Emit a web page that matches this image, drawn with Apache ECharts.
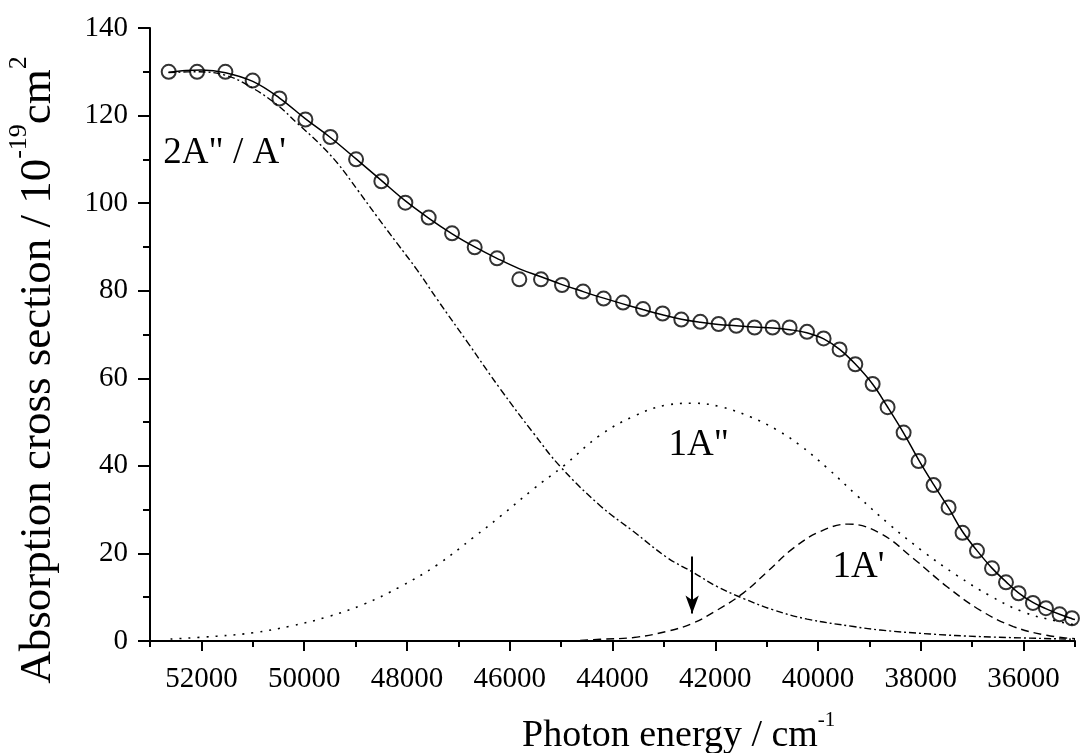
<!DOCTYPE html>
<html>
<head>
<meta charset="utf-8">
<title>Absorption cross section</title>
<script src="https://cdn.jsdelivr.net/npm/echarts@6.0.0/dist/echarts.min.js"></script>
<style>
  html, body { margin: 0; padding: 0; background: #fff; }
  #chart { width: 1081px; height: 753px; }
</style>
</head>
<body>
<div id="chart"></div>
<script>
// measured cross section (circles)
const pointX = [52636, 52084, 51533, 51002, 50482, 49976, 49490, 48990, 48498, 48031, 47577, 47122, 46682, 46247, 45813, 45391, 44982, 44573, 44173, 43795, 43406, 43025, 42661, 42291, 41935, 41591, 41235, 40884, 40554, 40215, 39892, 39581, 39275, 38938, 38647, 38335, 38044, 37752, 37460, 37188, 36907, 36615, 36343, 36098, 35818, 35565, 35300, 35059]
const pointY = [130.0, 130.0, 130.0, 128.0, 123.9, 119.1, 115.1, 110.0, 105.0, 100.1, 96.7, 93.1, 89.9, 87.4, 82.6, 82.6, 81.3, 79.8, 78.2, 77.3, 75.8, 74.8, 73.4, 72.9, 72.4, 72.0, 71.6, 71.6, 71.6, 70.6, 69.1, 66.6, 63.2, 58.7, 53.4, 47.6, 41.1, 35.6, 30.5, 24.7, 20.6, 16.6, 13.4, 10.9, 8.7, 7.5, 6.1, 5.2]

// total fit (solid)
const fitX = [52640, 52300, 52000, 51530, 51000, 50480, 49980, 49490, 48990, 48500, 48030, 47580, 47120, 46680, 46250, 45810, 45390, 44980, 44570, 44170, 43800, 43410, 43030, 42660, 42290, 41940, 41590, 41240, 40880, 40550, 40220, 39890, 39580, 39280, 38940, 38650, 38340, 38040, 37750, 37460, 37190, 36910, 36620, 36340, 36100, 35820, 35570, 35300, 35060, 35000]
const fitY = [129.9, 130.3, 130.4, 129.8, 127.8, 124.0, 119.3, 115.0, 110.1, 105.2, 100.5, 96.6, 93.0, 90.0, 87.4, 85.0, 83.2, 81.4, 79.8, 78.3, 77.0, 75.7, 74.5, 73.5, 72.8, 72.3, 72.0, 71.7, 71.5, 71.1, 70.4, 69.0, 66.6, 63.3, 58.7, 53.5, 47.6, 41.3, 35.7, 30.4, 25.0, 20.7, 16.7, 13.5, 11.0, 8.8, 7.4, 6.1, 5.1, 4.9]

// 2A" / A' band (dash-dot)
const bandAX = [52640, 52100, 51530, 51050, 50520, 50130, 49740, 49350, 48960, 48580, 48190, 47800, 47410, 46820, 46180, 45540, 45020, 44240, 43590, 42930, 42450, 41960, 41450, 40870, 40210, 39310, 38790, 37820, 36840, 35000]
const bandAY = [129.8, 130.0, 129.2, 126.6, 122.4, 118.2, 114.0, 109.1, 103.0, 96.9, 90.8, 84.7, 78.0, 68.2, 57.5, 47.5, 39.9, 30.9, 25.0, 19.0, 15.8, 12.4, 9.7, 7.1, 5.0, 3.3, 2.5, 1.6, 1.0, 0.4]

// 1A" band (dotted)
const bandBX = [52600, 51700, 50980, 50270, 49550, 48840, 48130, 47410, 46700, 46180, 45530, 44950, 44240, 43590, 42940, 42420, 41900, 41320, 40800, 40350, 39830, 39240, 38590, 37950, 37300, 36650, 36000, 35350, 35000]
const bandBY = [0.45, 1.1, 1.9, 3.4, 5.5, 8.4, 12.4, 17.4, 23.7, 28.5, 34.8, 40.0, 47.0, 51.3, 53.9, 54.3, 53.5, 51.2, 48.2, 44.7, 39.6, 33.2, 26.4, 20.4, 15.0, 10.3, 6.6, 4.5, 3.7]

// 1A' band (dashed)
const bandCX = [44630, 44240, 43590, 42940, 42450, 41970, 41450, 40990, 40480, 39960, 39410, 38790, 38140, 37490, 36840, 36200, 35550, 35000]
const bandCY = [0.1, 0.4, 0.8, 2.2, 4.0, 7.0, 11.0, 15.8, 21.2, 25.0, 26.7, 24.6, 18.8, 12.4, 7.0, 3.3, 1.3, 0.5]

const xMajorTicks = [36000, 38000, 40000, 42000, 44000, 46000, 48000, 50000, 52000]
const xMinorTicks = [35000, 37000, 39000, 41000, 43000, 45000, 47000, 49000, 51000, 53000]

// band labels and the arrow, in data units
const bandLabels = ['2A" / A\'', '1A"', '1A\'']
const bandLabelAt = [[52740, 111.3], [42910, 44.7], [39720, 16.8]]
const arrowFrom = [42450, 19.3]
const arrowTo = [42450, 6.3]

const font = '"Liberation Serif", "Times New Roman", serif'
const pairs = (xs, ys) => xs.map((x, i) => [x, ys[i]])

const chart = echarts.init(document.getElementById('chart'))

const curve = (name, xs, ys, type, width) => ({
  name: name,
  type: 'line',
  data: pairs(xs, ys),
  showSymbol: false,
  smooth: 0.4,
  lineStyle: { color: '#000', width: width, type: type },
  z: 2
})

const bandA = curve('2A" / A\'', bandAX, bandAY, [7, 3, 2, 3], 1.4)
bandA.markPoint = {
  symbolSize: 0,
  silent: true,
  label: {
    show: true,
    position: 'inside',
    align: 'left',
    verticalAlign: 'middle',
    color: '#000',
    fontFamily: font,
    fontSize: 37
  },
  data: bandLabels.map((t, i) => ({ coord: bandLabelAt[i], label: { formatter: t } }))
}

const bandC = curve('1A\'', bandCX, bandCY, [8, 5], 1.4)
bandC.markLine = {
  silent: true,
  symbol: ['none', 'arrow'],
  symbolSize: [10, 18],
  label: { show: false },
  lineStyle: { color: '#000', width: 2, type: 'solid' },
  data: [[{ coord: arrowFrom }, { coord: arrowTo }]]
}

chart.setOption({
  animation: false,
  backgroundColor: '#fff',
  grid: { left: 150, right: 6, top: 28, bottom: 112 },
  xAxis: [{
    type: 'value',
    inverse: true,
    min: 35000,
    max: 53000,
    splitLine: { show: false },
    axisLine: { onZero: false, lineStyle: { color: '#000', width: 2 } },
    axisTick: { customValues: xMajorTicks, length: 10, lineStyle: { color: '#000', width: 2 } },
    axisLabel: {
      customValues: xMajorTicks,
      margin: 24,
      color: '#000',
      fontFamily: font,
      fontSize: 29,
      formatter: v => String(v)
    }
  }, {
    // second axis only for the minor ticks on odd thousands
    type: 'value',
    inverse: true,
    min: 35000,
    max: 53000,
    position: 'bottom',
    splitLine: { show: false },
    axisLine: { show: false },
    axisLabel: { show: false },
    axisTick: { customValues: xMinorTicks, length: 6, lineStyle: { color: '#000', width: 2 } }
  }],
  yAxis: {
    type: 'value',
    min: 0,
    max: 140,
    interval: 20,
    splitLine: { show: false },
    axisLine: { show: true, lineStyle: { color: '#000', width: 2 } },
    axisTick: { show: true, length: 12, lineStyle: { color: '#000', width: 2 } },
    minorTick: { show: true, splitNumber: 2, length: 7, lineStyle: { color: '#000', width: 2 } },
    axisLabel: { margin: 22, color: '#000', fontFamily: font, fontSize: 29 }
  },
  graphic: [{
    type: 'text',
    left: 522,
    top: 710,
    style: {
      text: '{a|Photon energy / cm}{s|-1}',
      rich: {
        a: { fontFamily: font, fontSize: 38, lineHeight: 52, fill: '#000' },
        s: { fontFamily: font, fontSize: 21, lineHeight: 21, verticalAlign: 'top', fill: '#000' }
      }
    }
  }, {
    type: 'text',
    x: 38,
    y: 370,
    rotation: Math.PI / 2,
    style: {
      text: '{a|Absorption cross section / 10}{s|-19}{a|cm}{s|2}',
      align: 'center',
      verticalAlign: 'middle',
      rich: {
        a: { fontFamily: font, fontSize: 45, lineHeight: 64, fill: '#000' },
        s: { fontFamily: font, fontSize: 26, lineHeight: 26, verticalAlign: 'top', fill: '#000' }
      }
    }
  }],
  series: [
    bandA,
    curve('1A"', bandBX, bandBY, [2, 7], 1.6),
    bandC,
    curve('fit', fitX, fitY, 'solid', 1.5),
    {
      name: 'measured',
      type: 'scatter',
      data: pairs(pointX, pointY),
      symbol: 'circle',
      symbolSize: 14,
      itemStyle: { color: 'rgba(0,0,0,0)', borderColor: '#000', borderWidth: 2 },
      z: 3
    }
  ]
})
</script>
</body>
</html>
